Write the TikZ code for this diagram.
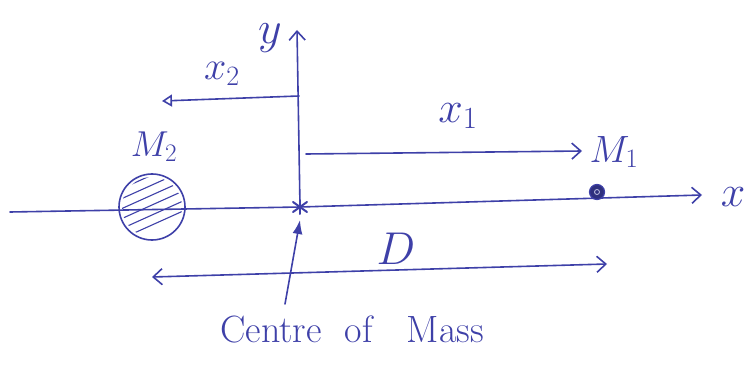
\RequirePackage{fix-cm}
\documentclass[tikz,border=0pt]{standalone}
\usetikzlibrary{arrows.meta,calc}
\definecolor{ink}{RGB}{62,64,168}
\tikzset{
  inkline/.style={draw=ink,line width=1.6pt,line cap=round},
  barb/.style={-{Straight Barb[length=9pt,width=16pt,line width=1.6pt]}},
  lbl/.style={text=ink,inner sep=0pt},
}
\newcommand{\fs}[1]{\fontsize{#1}{#1}\selectfont}
\begin{document}
\begin{tikzpicture}[x=1pt,y=-1pt]
\useasboundingbox (0,0) rectangle (749,366);
% key points
\coordinate (xl) at (10,212);
\coordinate (cm) at (300,207);
\coordinate (xr) at (702,195);
\coordinate (ytop) at (297,30);
\coordinate (x2s) at (299,96);
\coordinate (x2e) at (162,101);
\coordinate (x1s) at (306,154);
\coordinate (x1e) at (582,151);
\coordinate (dl) at (152,277);
\coordinate (dr) at (607,264);
\coordinate (cms) at (285,304);
\coordinate (cme) at (300,220);
% axes
\draw[inkline,barb] (xl) -- (cm) -- (xr);
\draw[inkline,barb] (cm) -- (ytop);
\node[lbl,font=\fs{46}] (ylab) at (270,38) {$y$};
\node[lbl,font=\fs{44}] (xlab) at (733,197) {$x$};
% star at centre of mass
\begin{scope}[ink,line width=2pt,line cap=round]
  \draw ($(cm)+(-7,-5)$) -- ($(cm)+(7,5)$);
  \draw ($(cm)+(-7,5)$) -- ($(cm)+(7,-5)$);
  \draw ($(cm)+(0,-7)$) -- ($(cm)+(0,7)$);
\end{scope}
% x2
\draw[inkline,-{Triangle[open,length=10pt,width=12pt,line width=1.6pt]}] (x2s) -- (x2e);
\node[lbl,font=\fs{40}] (x2lab) at (222,74) {$x_2$};
% x1
\draw[inkline,barb] (x1s) -- (x1e);
\node[lbl,font=\fs{44}] (x1lab) at (458,116) {$x_1$};
% M2
\node[lbl,font=\fs{36}] (m2lab) at (154,147) {$M_2$};
\node[circle,draw=ink,line width=1.6pt,minimum size=66pt,inner sep=0pt] (m2) at (152,207) {};
\begin{scope}
  \clip (m2.center) circle (30pt);
  \foreach \k in {-2,...,3}
    \draw[ink,line width=1.1pt] ($(m2.center)+(-40,6+10*\k)$) -- ++(80,-36);
\end{scope}
% M1
\node[lbl,font=\fs{38}] (m1lab) at (614,152) {$M_1$};
\node[circle,draw=ink,fill=ink!75!black,line width=1.2pt,minimum size=15pt,inner sep=0pt] (m1) at (597,192) {};
\node[circle,draw=white!70!ink,line width=0.8pt,minimum size=5pt,inner sep=0pt] (m1c) at (m1) {};
% D
\draw[inkline,{Straight Barb[length=9pt,width=16pt,line width=1.6pt]}-{Straight Barb[length=9pt,width=16pt,line width=1.6pt]}] (dl) -- (dr);
\node[lbl,font=\fs{46}] (dlab) at (396,249) {$D$};
% centre of mass pointer
\draw[inkline,-{Latex[length=14pt,width=10pt]}] (cms) -- (cme);
\node[lbl,font=\fs{38}] (cmlab) at (352,329) {Centre\hspace{0.6em}of\hspace{0.9em}Mass};
\end{tikzpicture}
\end{document}
